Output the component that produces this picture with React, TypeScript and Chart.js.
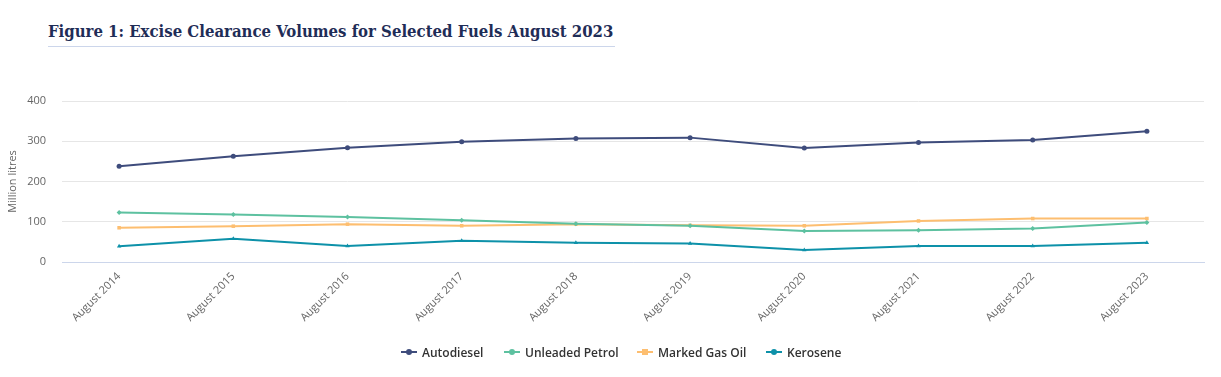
import React, { useEffect, useRef } from "react";
import { Chart, registerables } from "chart.js";

Chart.register(...registerables);

const categories = [
  "August 2014", "August 2015", "August 2016", "August 2017", "August 2018",
  "August 2019", "August 2020", "August 2021", "August 2022", "August 2023",
];
const autodiesel = [238, 263, 284, 299, 307, 309, 283, 297, 303, 325];
const unleadedPetrol = [123, 118, 112, 104, 95, 90, 77, 79, 83, 98];
const markedGasOil = [85, 89, 94, 90, 94, 91, 90, 102, 108, 108];
const kerosene = [39, 58, 40, 53, 48, 46, 30, 40, 40, 48];
const yTicks = [0, 100, 200, 300, 400];

const seriesNames = ["Autodiesel", "Unleaded Petrol", "Marked Gas Oil", "Kerosene"];
const seriesColors = ["#3e4c7c", "#5dc1a0", "#fdbe70", "#0d91a9"];
const seriesMarkers = ["circle", "rectRot", "rect", "triangle"];
const legendIconX = [401, 504, 637, 766];

export default function App() {
  const ref = useRef<HTMLCanvasElement | null>(null);

  useEffect(() => {
    if (!ref.current) return;
    const values = [autodiesel, unleadedPetrol, markedGasOil, kerosene];
    const chart = new Chart(ref.current, {
      type: "line",
      data: {
        labels: categories,
        datasets: values.map((v, i) => ({
          label: seriesNames[i],
          data: v,
          borderColor: seriesColors[i],
          backgroundColor: seriesColors[i],
          borderWidth: 2,
          pointStyle: seriesMarkers[i] as any,
          pointRadius: 2.5,
          pointBorderWidth: 0,
          tension: 0,
        })),
      },
      options: {
        animation: false,
        responsive: false,
        maintainAspectRatio: false,
        layout: { padding: { top: 101, right: 17, bottom: 52, left: 0 } },
        plugins: {
          tooltip: { enabled: false },
          legend: { display: false },
        },
        scales: {
          x: {
            offset: true,
            grid: { display: false, drawTicks: false },
            border: { display: true, color: "#ccd6eb", width: 1 },
            ticks: {
              minRotation: 45,
              maxRotation: 45,
              padding: 8,
              color: "#666666",
              font: { family: "'Open Sans'", size: 11 },
            },
            afterFit: (s: any) => {
              s.height = 63;
            },
          },
          y: {
            min: 0,
            max: 400,
            afterBuildTicks: (s: any) => {
              s.ticks = yTicks.map((v) => ({ value: v }));
            },
            grid: { color: "#e6e6e6", drawTicks: false },
            border: { display: false },
            ticks: {
              padding: 16,
              color: "#666666",
              font: { family: "'Open Sans'", size: 11 },
            },
            title: {
              display: true,
              text: "Million litres",
              color: "#666666",
              padding: { top: 6, bottom: 0 },
              font: { family: "'Open Sans'", size: 11 },
            },
            afterFit: (s: any) => {
              s.width = 62;
            },
          },
        },
      },
    });
    return () => chart.destroy();
  }, []);

  return (
    <div style={{ position: "absolute", left: 0, top: 0, width: 1221, height: 377, background: "#fff" }}>
      <div
        style={{
          position: "absolute",
          left: 48,
          top: 20,
          width: 567,
          paddingBottom: 4,
          borderBottom: "1px solid #ccd6eb",
          fontFamily: "'DejaVu Serif Condensed', 'DejaVu Serif', serif",
          fontWeight: "bold",
          fontSize: 16.6,
          color: "#1f2d57",
          whiteSpace: "nowrap",
          lineHeight: "22px",
        }}
      >
        Figure 1: Excise Clearance Volumes for Selected Fuels August 2023
      </div>
      <canvas ref={ref} width={1221} height={377} style={{ position: "absolute", left: 0, top: 0 }} />
      {seriesNames.map((name, i) => (
        <div
          key={name}
          style={{
            position: "absolute",
            left: legendIconX[i],
            top: 343,
            height: 18,
            display: "flex",
            alignItems: "center",
            whiteSpace: "nowrap",
          }}
        >
          <span style={{ position: "relative", width: 16, height: 8, display: "inline-block" }}>
            <span
              style={{
                position: "absolute",
                left: 0,
                top: 3,
                width: 16,
                height: 2,
                background: seriesColors[i],
              }}
            />
            <span
              style={{
                position: "absolute",
                left: 5,
                top: 1,
                width: 6,
                height: 6,
                background: seriesColors[i],
                borderRadius: seriesMarkers[i] === "rect" ? 0 : 3,
              }}
            />
          </span>
          <span
            style={{
              marginLeft: 5,
              fontFamily: "'Open Sans'",
              fontSize: 12,
              fontWeight: 600,
              color: "#333333",
            }}
          >
            {name}
          </span>
        </div>
      ))}
    </div>
  );
}
